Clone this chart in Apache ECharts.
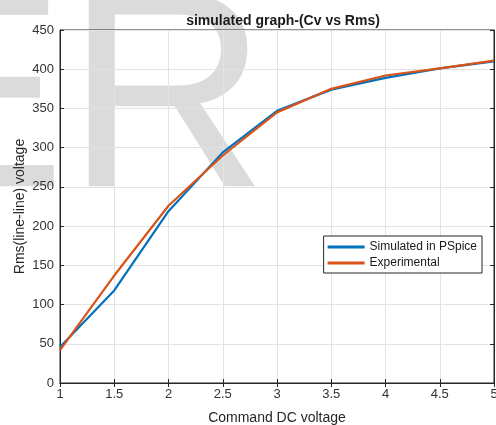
<!DOCTYPE html>
<html><head><meta charset="utf-8">
<script src="https://cdn.jsdelivr.net/npm/echarts@6/dist/echarts.min.js"></script>
<style>html,body{margin:0;padding:0;background:#fff}#c{width:496px;height:425px}</style>
</head><body><div id="c"></div>
<script>
var xValues = [1, 1.5, 2, 2.5, 3, 3.5, 4, 4.5, 5];
var simulated = [46, 118, 219, 294, 347, 374, 389, 401, 410];
var experimental = [42, 137, 226, 290, 345, 375, 392, 401, 411];
var seriesNames = ['Simulated in PSpice', 'Experimental'];
var titleText = 'simulated graph-(Cv vs Rms)';
var xName = 'Command DC voltage';
var yName = 'Rms(line-line) voltage';

var font = '"Liberation Sans", Arial, sans-serif';
var chart = echarts.init(document.getElementById('c'));
function pairs(v){ return xValues.map(function(x,i){ return [x, v[i]]; }); }
chart.setOption({
  animation: false,
  graphic: [{
    type: 'text', left: -121, top: -31, z: -10, silent: true,
    style: { text: 'ER', font: '280px ' + font, fill: 'rgba(0,0,0,0.14)' }
  }],
  title: { text: titleText, left: 278, top: 9, textAlign: 'center',
    textStyle: { fontFamily: font, fontSize: 14, fontWeight: 'bold', color: '#1a1a1a' } },
  grid: { left: 60, right: 2, top: 30, bottom: 42, outerBoundsMode: 'none', containLabel: false,
    show: true, borderColor: '#262626', borderWidth: 1, backgroundColor: 'transparent' },
  legend: {
    right: 14, top: 236, orient: 'vertical', itemGap: 4, itemWidth: 37, itemHeight: 3,
    backgroundColor: '#fff', borderColor: '#262626', borderWidth: 1, padding: [5, 5, 4, 4],
    icon: 'rect', textStyle: { fontFamily: font, fontSize: 12, color: '#1a1a1a' },
    data: seriesNames
  },
  xAxis: [{
    type: 'value', min: 1, max: 5, interval: 0.5,
    name: xName, nameLocation: 'middle', nameGap: 28, nameMoveOverlap: false,
    nameTextStyle: { fontFamily: font, fontSize: 14, color: '#262626' },
    axisLine: { show: true, lineStyle: { color: '#262626' } },
    axisTick: { show: true, inside: true, length: 4, lineStyle: { color: '#262626' } },
    axisLabel: { fontFamily: font, fontSize: 13, color: '#333', margin: 5 },
    splitLine: { show: true, lineStyle: { color: '#e3e3e3' } }
  }, {
    type: 'value', min: 1, max: 5, interval: 0.5, position: 'top',
    axisLine: { show: true, lineStyle: { color: '#262626' } },
    axisTick: { show: true, inside: true, length: 4, lineStyle: { color: '#262626' } },
    axisLabel: { show: false }, splitLine: { show: false }
  }],
  yAxis: [{
    type: 'value', min: 0, max: 450, interval: 50,
    name: yName, nameLocation: 'middle', nameGap: 33, nameMoveOverlap: false,
    nameTextStyle: { fontFamily: font, fontSize: 14, color: '#262626' },
    axisLine: { show: true, lineStyle: { color: '#262626' } },
    axisTick: { show: true, inside: true, length: 4, lineStyle: { color: '#262626' } },
    axisLabel: { fontFamily: font, fontSize: 13, color: '#333', margin: 6 },
    splitLine: { show: true, lineStyle: { color: '#e3e3e3' } }
  }, {
    type: 'value', min: 0, max: 450, interval: 50, position: 'right',
    axisLine: { show: true, lineStyle: { color: '#262626' } },
    axisTick: { show: true, inside: true, length: 4, lineStyle: { color: '#262626' } },
    axisLabel: { show: false }, splitLine: { show: false }
  }],
  series: [{
    name: seriesNames[0], type: 'line', data: pairs(simulated), showSymbol: false,
    lineStyle: { color: '#0072BD', width: 2.2 }, itemStyle: { color: '#0072BD' }, z: 3
  }, {
    name: seriesNames[1], type: 'line', data: pairs(experimental), showSymbol: false,
    lineStyle: { color: '#D95319', width: 2.2 }, itemStyle: { color: '#D95319' }, z: 4
  }]
});
</script></body></html>
